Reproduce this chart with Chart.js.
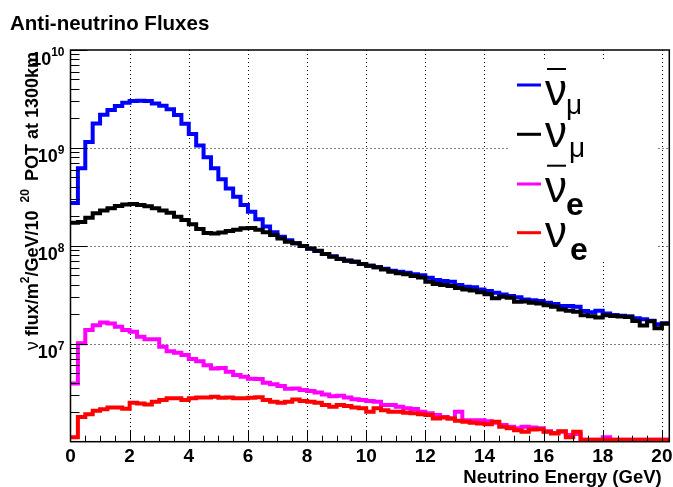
<!DOCTYPE html>
<html>
<head>
<meta charset="utf-8">
<title>Anti-neutrino Fluxes</title>
<script src="https://cdn.jsdelivr.net/npm/chart.js@4.4.1/dist/chart.umd.min.js"></script>
<style>
  html, body { margin: 0; padding: 0; background: #fff; }
  #fluxChart { display: block; }
</style>
</head>
<body>
<canvas id="fluxChart" width="673" height="487"></canvas>
<script>
// histogram bins: 0.25 GeV wide, starting at 0 GeV
const binWidth = 0.25;

// anti-nu_mu (blue)
const numuBar = [
  2.74e8, 6.19e8, 1.15e9, 1.78e9, 2.18e9, 2.44e9, 2.68e9, 2.90e9, 3.01e9, 3.03e9,
  3.01e9, 2.85e9, 2.70e9, 2.48e9, 2.17e9, 1.77e9, 1.39e9, 1.06e9, 8.02e8, 6.19e8,
  4.78e8, 3.86e8, 3.18e8, 2.61e8, 2.23e8, 1.87e8, 1.58e8, 1.38e8, 1.24e8, 1.14e8,
  1.06e8, 9.95e7, 9.33e7, 8.87e7, 8.28e7, 7.82e7, 7.38e7, 7.08e7, 6.89e7, 6.53e7,
  6.28e7, 6.05e7, 5.82e7, 5.56e7, 5.43e7, 5.31e7, 5.13e7, 5.01e7, 4.73e7, 4.47e7,
  4.37e7, 4.30e7, 3.98e7, 3.83e7, 3.77e7, 3.59e7, 3.45e7, 3.32e7, 3.19e7, 3.07e7,
  2.98e7, 2.84e7, 2.79e7, 2.73e7, 2.62e7, 2.55e7, 2.43e7, 2.43e7, 2.39e7, 2.16e7,
  2.10e7, 2.17e7, 2.04e7, 1.97e7, 1.93e7, 1.91e7, 1.82e7, 1.78e7, 1.72e7, 1.58e7,
  1.62e7
];

// nu_mu (black)
const numu = [
  1.72e8, 1.75e8, 1.94e8, 2.15e8, 2.29e8, 2.42e8, 2.55e8, 2.65e8, 2.67e8, 2.61e8,
  2.53e8, 2.42e8, 2.29e8, 2.18e8, 1.98e8, 1.84e8, 1.66e8, 1.49e8, 1.35e8, 1.34e8,
  1.37e8, 1.42e8, 1.46e8, 1.51e8, 1.52e8, 1.46e8, 1.38e8, 1.29e8, 1.19e8, 1.10e8,
  1.06e8, 9.95e7, 9.42e7, 8.91e7, 8.24e7, 7.74e7, 7.33e7, 7.05e7, 6.89e7, 6.52e7,
  6.27e7, 6.03e7, 5.75e7, 5.45e7, 5.24e7, 5.12e7, 4.91e7, 4.76e7, 4.30e7, 4.07e7,
  3.98e7, 3.89e7, 3.72e7, 3.59e7, 3.51e7, 3.35e7, 3.20e7, 2.91e7, 3.02e7, 2.95e7,
  2.69e7, 2.70e7, 2.62e7, 2.58e7, 2.48e7, 2.39e7, 2.24e7, 2.17e7, 2.12e7, 1.96e7,
  1.91e7, 1.85e7, 1.95e7, 1.92e7, 1.90e7, 1.88e7, 1.71e7, 1.54e7, 1.70e7, 1.44e7,
  1.60e7
];

// anti-nu_e (magenta)
const nueBar = [
  3.94e6, 1.01e7, 1.38e7, 1.55e7, 1.65e7, 1.61e7, 1.49e7, 1.38e7, 1.33e7, 1.18e7,
  1.11e7, 1.11e7, 9.33e6, 8.41e6, 8.09e6, 7.67e6, 6.98e6, 6.65e6, 6.05e6, 5.60e6,
  5.65e6, 5.18e6, 4.79e6, 4.60e6, 4.40e6, 4.37e6, 4.00e6, 3.87e6, 3.70e6, 3.48e6,
  3.49e6, 3.37e6, 3.29e6, 3.18e6, 3.04e6, 2.92e6, 2.94e6, 2.82e6, 2.72e6, 2.66e6,
  2.60e6, 2.56e6, 2.37e6, 2.37e6, 2.28e6, 2.19e6, 2.16e6, 2.02e6, 1.95e6, 1.87e6,
  1.79e6, 1.73e6, 2.02e6, 1.66e6, 1.66e6, 1.66e6, 1.62e6, 1.56e6, 1.48e6, 1.42e6,
  1.37e6, 1.42e6, 1.40e6, 1.37e6, 1.28e6, 1.23e6, 1.26e6, 1.17e6, 1.20e6, 1.05e6,
  1.05e6, 1.05e6, 1.11e6, 1.05e6, 1.05e6, 1.05e6, 1.05e6, 1.05e6, 1.05e6, 1.05e6,
  1.05e6
];

// nu_e (red)
const nue = [
  1.11e6, 1.79e6, 1.91e6, 2.07e6, 2.14e6, 2.24e6, 2.24e6, 2.17e6, 2.50e6, 2.45e6,
  2.40e6, 2.56e6, 2.66e6, 2.77e6, 2.77e6, 2.66e6, 2.77e6, 2.83e6, 2.83e6, 2.88e6,
  2.81e6, 2.83e6, 2.77e6, 2.77e6, 2.81e6, 2.85e6, 2.66e6, 2.56e6, 2.50e6, 2.56e6,
  2.69e6, 2.60e6, 2.56e6, 2.50e6, 2.37e6, 2.28e6, 2.37e6, 2.31e6, 2.24e6, 2.19e6,
  2.02e6, 2.19e6, 2.10e6, 2.02e6, 2.02e6, 1.97e6, 1.95e6, 1.91e6, 1.87e6, 1.73e6,
  1.77e6, 1.73e6, 1.64e6, 1.60e6, 1.56e6, 1.53e6, 1.51e6, 1.60e6, 1.42e6, 1.37e6,
  1.31e6, 1.26e6, 1.33e6, 1.34e6, 1.26e6, 1.21e6, 1.28e6, 1.11e6, 1.26e6, 1.05e6,
  1.05e6, 1.05e6, 1.05e6, 1.05e6, 1.05e6, 1.05e6, 1.05e6, 1.05e6, 1.05e6, 1.05e6,
  1.05e6
];

// axes
const xMin = 0, xMax = 20.25, xMajorStep = 2, xMinorStep = 0.5;
const yMin = 1e6, yMax = 1e10;
const yDecades = [7, 8, 9, 10];

const titleText = "Anti-neutrino Fluxes";
const xTitle = "Neutrino Energy (GeV)";
// y title pieces: [text, superscript?]
const yTitle = [["flux/m", false], ["2", true], ["/GeV/10", false], ["20", true], ["POT at 1300km", false]];

// legend: nu with optional bar + subscript
const legendItems = [
  { color: "#0000ff", bar: true,  sub: "\u03bc" },
  { color: "#000000", bar: false, sub: "\u03bc" },
  { color: "#ff00ff", bar: true,  sub: "e" },
  { color: "#ff0000", bar: false, sub: "e" }
];

const FONT = '"Liberation Sans", Arial, Helvetica, sans-serif';

function toSteps(values) {
  const pts = values.map((v, i) => ({ x: xMin + i * binWidth, y: v }));
  pts.push({ x: xMin + values.length * binWidth, y: values[values.length - 1] });
  return pts;
}

function histSet(values, color, order) {
  return {
    data: toSteps(values),
    borderColor: color,
    borderWidth: 4,
    stepped: true,
    pointRadius: 0,
    fill: false,
    borderJoinStyle: "miter",
    borderCapStyle: "butt",
    order: order
  };
}

const rootStyle = {
  id: "rootStyle",
  beforeDatasetsDraw(chart) {
    const { ctx, chartArea: a, scales: { x, y } } = chart;
    ctx.save();
    ctx.strokeStyle = "#000";
    ctx.lineWidth = 1;
    ctx.setLineDash([1, 3]);
    ctx.beginPath();
    x.ticks.forEach(t => {
      if (t.value <= xMin) return;
      const px = Math.round(x.getPixelForValue(t.value)) + 0.5;
      ctx.moveTo(px, a.top);
      ctx.lineTo(px, a.bottom);
    });
    yDecades.forEach(d => {
      const v = Math.pow(10, d);
      if (v <= yMin || v >= yMax) return;
      const py = Math.round(y.getPixelForValue(v)) + 0.5;
      ctx.moveTo(a.left, py);
      ctx.lineTo(a.right, py);
    });
    ctx.stroke();
    ctx.restore();
  },
  afterDatasetsDraw(chart) {
    const { ctx, chartArea: a, scales: { x, y } } = chart;
    ctx.save();

    // legend (white box, no border)
    ctx.fillStyle = "#fff";
    ctx.fillRect(510, 60, 148, 199);
    const lineY = [85, 134.3, 184, 232.7];
    const nuBase = [105, 146.7, 201.7, 246.7];
    const subPos = [[566, 114], [569, 157], [566, 215], [570, 260]];
    legendItems.forEach((it, i) => {
      ctx.strokeStyle = it.color;
      ctx.lineWidth = 3;
      ctx.beginPath();
      ctx.moveTo(517, lineY[i]);
      ctx.lineTo(541, lineY[i]);
      ctx.stroke();
      ctx.fillStyle = "#000";
      ctx.textAlign = "left";
      ctx.textBaseline = "alphabetic";
      ctx.font = "44px " + FONT;
      ctx.fillText("\u03bd", 545, nuBase[i]);
      if (it.bar) {
        ctx.fillRect(547, nuBase[i] - 37, 19, 2);
      }
      ctx.font = (it.sub === "e" ? "bold 32px " : "28px ") + FONT;
      ctx.fillText(it.sub, subPos[i][0], subPos[i][1]);
    });

    // ticks (inside the frame, ROOT style)
    ctx.strokeStyle = "#000";
    ctx.lineWidth = 1;
    ctx.beginPath();
    for (let d = Math.floor(Math.log10(yMin)); d <= Math.log10(yMax); d++) {
      for (let m = 1; m < 10; m++) {
        const v = m * Math.pow(10, d);
        if (v < yMin * 1.001 || v > yMax) continue;
        const py = Math.round(y.getPixelForValue(v)) + 0.5;
        ctx.moveTo(a.left, py);
        ctx.lineTo(a.left + (m === 1 ? 17 : 9), py);
      }
    }
    const nMinor = Math.round((xMax - xMin) / xMinorStep);
    for (let i = 1; i <= nMinor; i++) {
      const v = xMin + i * xMinorStep;
      const px = Math.round(x.getPixelForValue(v)) + 0.5;
      const major = Math.abs(v / xMajorStep - Math.round(v / xMajorStep)) < 1e-9;
      ctx.moveTo(px, a.bottom);
      ctx.lineTo(px, a.bottom - (major ? 11 : 6));
    }
    ctx.stroke();

    // frame
    ctx.lineWidth = 1.5;
    ctx.strokeRect(a.left, a.top, a.right - a.left, a.bottom - a.top);

    // x tick labels
    ctx.fillStyle = "#000";
    ctx.font = "bold 19px " + FONT;
    ctx.textAlign = "center";
    ctx.textBaseline = "alphabetic";
    x.ticks.forEach(t => {
      ctx.fillText(String(t.value), x.getPixelForValue(t.value), 461.5);
    });

    // y tick labels 10^n
    yDecades.forEach(d => {
      const py = y.getPixelForValue(Math.pow(10, d));
      ctx.textAlign = "left";
      ctx.font = "bold 12px " + FONT;
      const wSup = ctx.measureText(String(d)).width;
      ctx.font = "bold 18px " + FONT;
      const wBase = ctx.measureText("10").width;
      const right = 64.5;
      ctx.fillText("10", right - wSup - wBase, py + 14.5);
      ctx.font = "bold 12px " + FONT;
      ctx.fillText(String(d), right - wSup, py + 6);
    });

    // x axis title
    ctx.font = "bold 18.5px " + FONT;
    ctx.textAlign = "right";
    ctx.fillText(xTitle, 661.7, 482.5);

    // main title
    ctx.font = "bold 20.5px " + FONT;
    ctx.textAlign = "left";
    ctx.fillText(titleText, 10, 30);

    // y axis title, rotated, aligned to the top of the axis
    ctx.translate(38.3, 52);
    ctx.rotate(-Math.PI / 2);
    const mainFont = "bold 18px " + FONT;
    const supFont = "bold 12px " + FONT;
    const nuFont = "18px " + FONT;
    const pieces = [["\u03bd", nuFont, 0, 0], [" ", mainFont, 0, 0]];
    yTitle.forEach(([txt, sup], i) => {
      if (sup && i === 3) pieces.push(["", mainFont, 0, 8]);
      pieces.push([txt, sup ? supFont : mainFont, sup ? -9 : 0, 0]);
      if (sup && i === 3) pieces.push(["", mainFont, 0, 8]);
    });
    let total = 0;
    pieces.forEach(p => { ctx.font = p[1]; p.push(ctx.measureText(p[0]).width + p[3]); total += p[4]; });
    let cx = -total;
    ctx.textAlign = "left";
    pieces.forEach(p => {
      ctx.font = p[1];
      ctx.fillText(p[0], cx + p[3] / 2, p[2]);
      cx += p[4];
    });

    ctx.restore();
  }
};

const ctx = document.getElementById("fluxChart").getContext("2d");
const fluxChart = new Chart(ctx, {
  type: "line",
  data: {
    datasets: [
      histSet(numuBar, "#0000ff", 4),
      histSet(numu, "#000000", 3),
      histSet(nueBar, "#ff00ff", 2),
      histSet(nue, "#ff0000", 1)
    ]
  },
  options: {
    responsive: false,
    animation: false,
    devicePixelRatio: 1,
    events: [],
    layout: { padding: { top: 50, right: 3.7, bottom: 0, left: 0 } },
    plugins: {
      legend: { display: false },
      title: { display: false },
      tooltip: { enabled: false }
    },
    scales: {
      x: {
        type: "linear",
        min: xMin,
        max: xMax,
        ticks: { stepSize: xMajorStep, display: false, includeBounds: false },
        grid: { display: false },
        border: { display: false },
        afterFit(scale) { scale.height = 45.3; }
      },
      y: {
        type: "logarithmic",
        min: yMin,
        max: yMax,
        ticks: { display: false },
        grid: { display: false },
        border: { display: false },
        afterFit(scale) { scale.width = 70.5; }
      }
    }
  },
  plugins: [rootStyle]
});
</script>
</body>
</html>
